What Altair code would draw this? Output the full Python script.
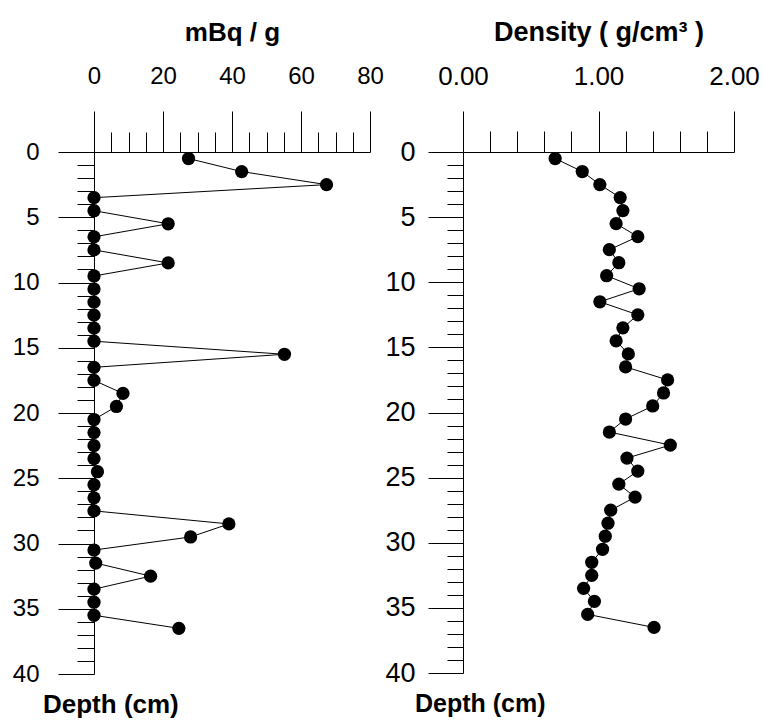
import altair as alt
import pandas as pd

FONT = "Liberation Sans"

depth = [0.5, 1.5, 2.5, 3.5, 4.5, 5.5, 6.5, 7.5, 8.5, 9.5, 10.5, 11.5, 12.5,
         13.5, 14.5, 15.5, 16.5, 17.5, 18.5, 19.5, 20.5, 21.5, 22.5, 23.5,
         24.5, 25.5, 26.5, 27.5, 28.5, 29.5, 30.5, 31.5, 32.5, 33.5, 34.5,
         35.5, 36.5]
activity = [27.4, 42.8, 67.4, 0, 0, 21.5, 0, 0, 21.5, 0, 0, 0, 0, 0, 0, 55.2,
            0, 0, 8.4, 6.5, 0, 0, 0, 0, 1.0, 0, 0, 0, 39.1, 28.0, 0, 0.5, 16.4,
            0, 0, 0, 24.6]
density = [0.68, 0.88, 1.01, 1.16, 1.18, 1.13, 1.29, 1.08, 1.15, 1.06, 1.30,
           1.01, 1.29, 1.18, 1.13, 1.22, 1.20, 1.51, 1.48, 1.40, 1.20, 1.08,
           1.53, 1.21, 1.29, 1.15, 1.27, 1.09, 1.07, 1.05, 1.03, 0.95, 0.95,
           0.89, 0.97, 0.92, 1.41]

depth_ticks = list(range(0, 41))
activity_ticks = [0, 5, 10, 15, 20, 25, 30, 35, 40, 45, 50, 55, 60, 65, 70, 75, 80]
density_ticks = [0, 0.2, 0.4, 0.6, 0.8, 1.0, 1.2, 1.4, 1.6, 1.8, 2.0]

df1 = pd.DataFrame({"depth": depth, "value": activity})
df2 = pd.DataFrame({"depth": depth, "value": density})


def y_enc(major, minor, pad, size):
    return alt.Y(
        "depth:Q",
        scale=alt.Scale(domain=[0, 40], reverse=True, nice=False, zero=False),
        axis=alt.Axis(
            values=depth_ticks, title=None, orient="left",
            tickSize=alt.condition("datum.value % 5 === 0", alt.value(major), alt.value(minor)),
            labelExpr="datum.value % 5 === 0 ? datum.label : ''",
            labelFontSize=size, labelFont=FONT, labelPadding=pad,
            labelOverlap=False, labelFlush=False, labelBound=False,
        ),
    )


x_left = alt.X(
    "value:Q",
    scale=alt.Scale(domain=[0, 80], nice=False, zero=False),
    axis=alt.Axis(
        values=activity_ticks, orient="top", title="mBq / g",
        tickSize=alt.condition("datum.value % 20 === 0", alt.value(41), alt.value(20)),
        labelExpr="datum.value % 20 === 0 ? datum.label : ''",
        labelFontSize=24, labelFont=FONT, labelPadding=23,
        labelOverlap=False, labelFlush=False, labelBound=False,
        titleFont=FONT, titleFontSize=26, titleFontWeight="bold", titlePadding=19,
    ),
)

x_right = alt.X(
    "value:Q",
    scale=alt.Scale(domain=[0, 2], nice=False, zero=False),
    axis=alt.Axis(
        values=density_ticks, orient="top", title="Density ( g/cm³ )",
        tickSize=alt.condition("abs(datum.value - round(datum.value)) < 1e-6", alt.value(41), alt.value(21)),
        labelExpr="abs(datum.value - round(datum.value)) < 1e-6 ? format(datum.value, '.2f') : ''",
        labelFontSize=26, labelFont=FONT, labelPadding=22,
        labelOverlap=False, labelFlush=False, labelBound=False,
        titleFont=FONT, titleFontSize=27, titleFontWeight="bold", titlePadding=17,
    ),
)


def panel(df, x, y):
    base = alt.Chart(df)
    line = base.mark_line(color="black", strokeWidth=1).encode(
        x=x, y=y, order=alt.Order("depth:Q"))
    pts = base.mark_circle(size=175, color="black", opacity=1).encode(x=x, y=y)
    return alt.layer(line, pts)


left = panel(df1, x_left, y_enc(36, 17, 19, 24)).properties(
    width=276, height=522,
    title=alt.TitleParams("Depth (cm)", orient="bottom", anchor="start", frame="group",
                          dx=-51, font=FONT, fontSize=26, fontWeight="bold", offset=6,
                          color="black"),
)
right = panel(df2, x_right, y_enc(35, 16, 13, 27)).properties(
    width=271, height=521,
    title=alt.TitleParams("Depth (cm)", orient="bottom", anchor="start", frame="group",
                          dx=-48, font=FONT, fontSize=25, fontWeight="bold", offset=6,
                          color="black"),
)

chart = alt.hconcat(left, right, spacing=0).properties(
    padding={"left": 12, "top": 18, "right": 0, "bottom": 0}
).configure_view(stroke=None).configure_axis(
    grid=False, domainColor="black", tickColor="black", labelColor="black",
    titleColor="black", domainWidth=1, tickWidth=1,
)

chart.save("out.html", embed_options={"renderer": "svg", "actions": False})
